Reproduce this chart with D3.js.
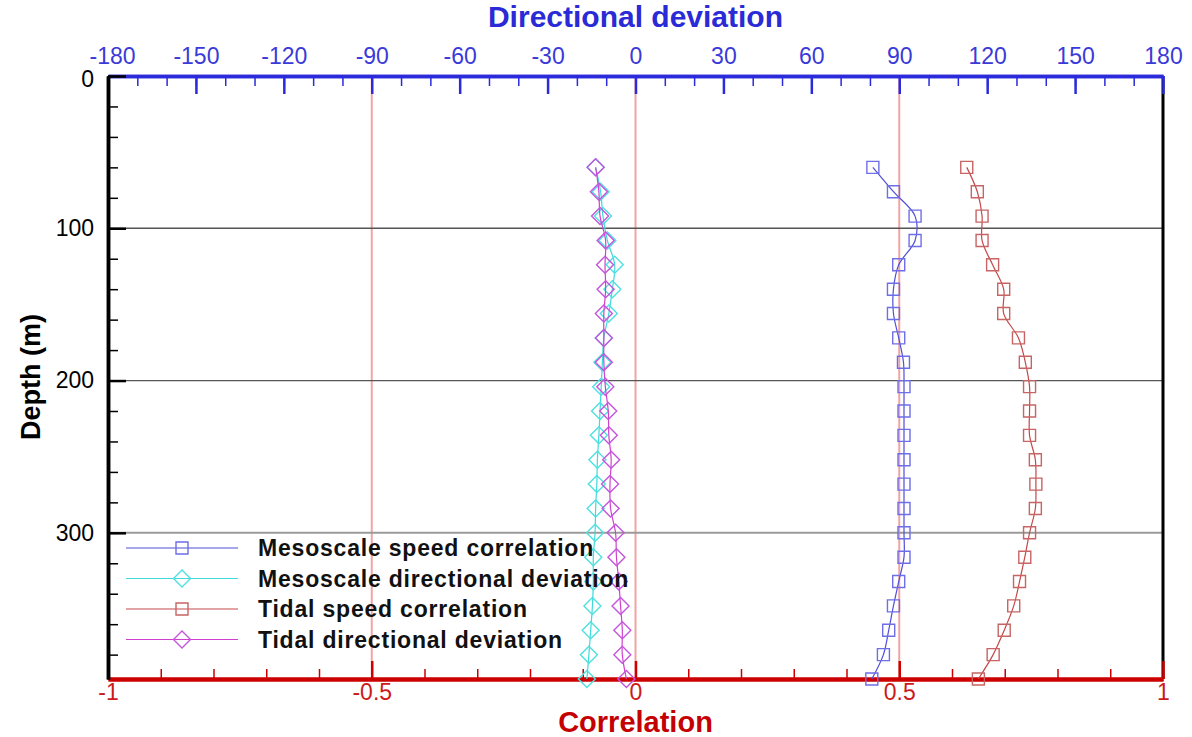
<!DOCTYPE html>
<html>
<head>
<meta charset="utf-8">
<script src="https://cdn.jsdelivr.net/npm/d3@7"></script>
<style>
  body { margin: 0; background: #fff; }
  svg { display: block; font-family: "Liberation Sans", Arial, Helvetica, sans-serif; }
</style>
</head>
<body>
<div id="chart"></div>
<script>
// --- Data ---
const depths = [60, 76, 92, 108, 124, 140, 156, 172, 188, 204, 220, 236, 252, 268, 284, 300, 316, 332, 348, 364, 380, 396];

const mesoSpeedCorr = [0.450, 0.489, 0.530, 0.530, 0.499, 0.489, 0.489, 0.499, 0.508, 0.509, 0.509,
  0.509, 0.509, 0.509, 0.509, 0.509, 0.509, 0.499, 0.489, 0.480, 0.470, 0.448];
const mesoDirDev = [-13.6, -11.9, -11.1, -9.6, -7.1, -7.9, -9.1, -10.8, -11.3, -11.7, -12.1,
  -12.5, -13.0, -13.2, -13.6, -13.8, -14.4, -14.4, -14.7, -15.3, -15.9, -16.6];
const tidalSpeedCorr = [0.628, 0.648, 0.657, 0.657, 0.677, 0.698, 0.698, 0.726, 0.739, 0.747, 0.747,
  0.747, 0.758, 0.759, 0.758, 0.747, 0.738, 0.728, 0.717, 0.699, 0.678, 0.650];
const tidalDirDev = [-13.6, -12.5, -12.1, -10.2, -10.4, -10.2, -10.8, -10.8, -10.8, -10.3, -9.3,
  -9.1, -8.3, -8.7, -8.5, -6.8, -6.5, -5.7, -5.1, -4.5, -4.5, -3.1];

const dirTicks = [-180, -150, -120, -90, -60, -30, 0, 30, 60, 90, 120, 150, 180];
const corrTicks = [-1, -0.5, 0, 0.5, 1];
const depthTicks = [0, 100, 200, 300];
const gridDepths = [100, 200, 300];
const gridCorr = [-0.5, 0, 0.5];

const legendLabels = [
  "Mesoscale speed correlation",
  "Mesoscale directional deviation",
  "Tidal speed correlation",
  "Tidal directional deviation"
];

// --- Setup ---
const width = 1192, height = 737;
const plotLeft = 108, plotRight = 1163, plotTop = 76, plotBottom = 679;

const xCorr = d3.scaleLinear().domain([-1, 1]).range([plotLeft, plotRight]);
const xDir = d3.scaleLinear().domain([-180, 180]).range([plotLeft, plotRight]);
const y = d3.scaleLinear().domain([0, 396]).range([plotTop, plotBottom]);

const svg = d3.select("#chart").append("svg")
  .attr("width", width)
  .attr("height", height);

// grid lines
svg.append("g").selectAll("line")
  .data(gridCorr)
  .join("line")
  .attr("x1", d => xCorr(d)).attr("x2", d => xCorr(d))
  .attr("y1", plotTop).attr("y2", plotBottom)
  .attr("stroke", "#f2a4a4")
  .attr("stroke-width", 2);

svg.append("g").selectAll("line")
  .data(gridDepths)
  .join("line")
  .attr("x1", plotLeft).attr("x2", plotRight)
  .attr("y1", d => y(d)).attr("y2", d => y(d))
  .attr("stroke", d => d === 300 ? "#9a9a9a" : "#555")
  .attr("stroke-width", d => d === 300 ? 2 : 1.3);

// right frame
svg.append("line")
  .attr("x1", plotRight).attr("x2", plotRight)
  .attr("y1", plotTop).attr("y2", plotBottom)
  .attr("stroke", "#000")
  .attr("stroke-width", 3);

// --- Axes ---
function styleAxis(g, color, w) {
  g.select(".domain").attr("stroke", color).attr("stroke-width", w);
  g.selectAll(".tick line").attr("stroke", color).attr("stroke-width", 2.5);
  g.selectAll(".tick text").attr("fill", color).attr("font-size", 23);
}

// top: directional deviation (blue)
const topMinor = svg.append("g")
  .attr("transform", `translate(0,${plotTop})`)
  .call(d3.axisTop(xDir).tickValues(d3.range(-180, 181, 10)).tickSize(-10).tickSizeOuter(0).tickFormat(""));
styleAxis(topMinor, "#2b2bdc", 3.5);
topMinor.selectAll(".tick line").attr("stroke-width", 1.5);

const topAxis = svg.append("g")
  .attr("transform", `translate(0,${plotTop})`)
  .call(d3.axisTop(xDir).tickValues(dirTicks).tickSize(-18).tickSizeOuter(0).tickPadding(12)
    .tickFormat(d => String(d)));
styleAxis(topAxis, "#2b2bdc", 3.5);
topAxis.selectAll(".tick text").attr("fill", "#3a3ad8");
// the -180 label sits just right of the depth "0" in the original
topAxis.selectAll(".tick text").filter(d => d === -180).attr("dx", 4);

// bottom: correlation (red)
const bottomMinor = svg.append("g")
  .attr("transform", `translate(0,${plotBottom})`)
  .call(d3.axisBottom(xCorr).tickValues(d3.range(-10, 11, 1).map(d => d / 10)).tickSize(-10).tickSizeOuter(0).tickFormat(""));
styleAxis(bottomMinor, "#cc0000", 4);
bottomMinor.selectAll(".tick line").attr("stroke-width", 1.5);

const bottomAxis = svg.append("g")
  .attr("transform", `translate(0,${plotBottom})`)
  .call(d3.axisBottom(xCorr).tickValues(corrTicks).tickSize(-18).tickSizeOuter(0).tickPadding(5)
    .tickFormat(d => String(d)));
styleAxis(bottomAxis, "#cc0000", 4);
bottomAxis.selectAll(".tick text").attr("fill", "#cc1a1a");

// left: depth (black)
const leftMinor = svg.append("g")
  .attr("transform", `translate(${plotLeft},0)`)
  .call(d3.axisLeft(y).tickValues(d3.range(0, 396, 20)).tickSize(-10).tickSizeOuter(0).tickFormat(""));
styleAxis(leftMinor, "#000", 3.5);
leftMinor.selectAll(".tick line").attr("stroke-width", 1.5);

const leftAxis = svg.append("g")
  .attr("transform", `translate(${plotLeft},0)`)
  .call(d3.axisLeft(y).tickValues(depthTicks).tickSize(-18).tickSizeOuter(0).tickPadding(14)
    .tickFormat(d => String(d)));
styleAxis(leftAxis, "#000", 3.5);
leftAxis.selectAll(".tick text").filter(d => d === 0).attr("dy", "0.45em");

// axis titles
svg.append("text")
  .attr("x", xCorr(0)).attr("y", 27)
  .attr("text-anchor", "middle")
  .attr("font-size", 30).attr("font-weight", "bold")
  .attr("fill", "#2a2ad6")
  .text("Directional deviation");

svg.append("text")
  .attr("x", xCorr(0)).attr("y", 732)
  .attr("text-anchor", "middle")
  .attr("font-size", 29).attr("font-weight", "bold")
  .attr("fill", "#c40000")
  .text("Correlation");

svg.append("text")
  .attr("transform", "translate(40,377) rotate(-90)")
  .attr("text-anchor", "middle")
  .attr("font-size", 27).attr("font-weight", "bold")
  .attr("fill", "#000")
  .text("Depth (m)");

// --- Series ---
const series = [
  { values: mesoSpeedCorr, x: xCorr, line: "#4f4fd8", mark: "#6e6ee8", shape: "square" },
  { values: mesoDirDev, x: xDir, line: "#3fdada", mark: "#4fe0e0", shape: "diamond" },
  { values: tidalSpeedCorr, x: xCorr, line: "#c44848", mark: "#c86464", shape: "square" },
  { values: tidalDirDev, x: xDir, line: "#d040d0", mark: "#c455dc", shape: "diamond" }
];

function markerPath(shape) {
  if (shape === "square") return "M-6,-6H6V6H-6Z";
  return "M0,-8.5L8.5,0L0,8.5L-8.5,0Z";
}

series.forEach(s => {
  const pts = depths.map((d, i) => [s.x(s.values[i]), y(d)]);
  const g = svg.append("g");
  g.append("path")
    .attr("d", d3.line().curve(d3.curveCatmullRom.alpha(0.5))(pts))
    .attr("fill", "none")
    .attr("stroke", s.line)
    .attr("stroke-width", 1.2);
  g.selectAll("path.mk")
    .data(pts)
    .join("path")
    .attr("class", "mk")
    .attr("transform", p => `translate(${p[0]},${p[1]})`)
    .attr("d", markerPath(s.shape))
    .attr("fill", "none")
    .attr("stroke", s.mark)
    .attr("stroke-width", 1.4);
});

// --- Legend ---
const legend = svg.append("g");
const legendY0 = 548, legendStep = 30.5;
series.forEach((s, i) => {
  const ly = legendY0 + i * legendStep;
  legend.append("line")
    .attr("x1", 126).attr("x2", 238)
    .attr("y1", ly).attr("y2", ly)
    .attr("stroke", s.line)
    .attr("stroke-width", 1.2);
  legend.append("path")
    .attr("transform", `translate(182,${ly})`)
    .attr("d", markerPath(s.shape))
    .attr("fill", "none")
    .attr("stroke", s.mark)
    .attr("stroke-width", 1.4);
  legend.append("text")
    .attr("x", 258).attr("y", ly + 8)
    .attr("font-size", 23).attr("font-weight", "bold")
    .attr("letter-spacing", 0.8)
    .attr("fill", "#111")
    .text(legendLabels[i]);
});
</script>
</body>
</html>
